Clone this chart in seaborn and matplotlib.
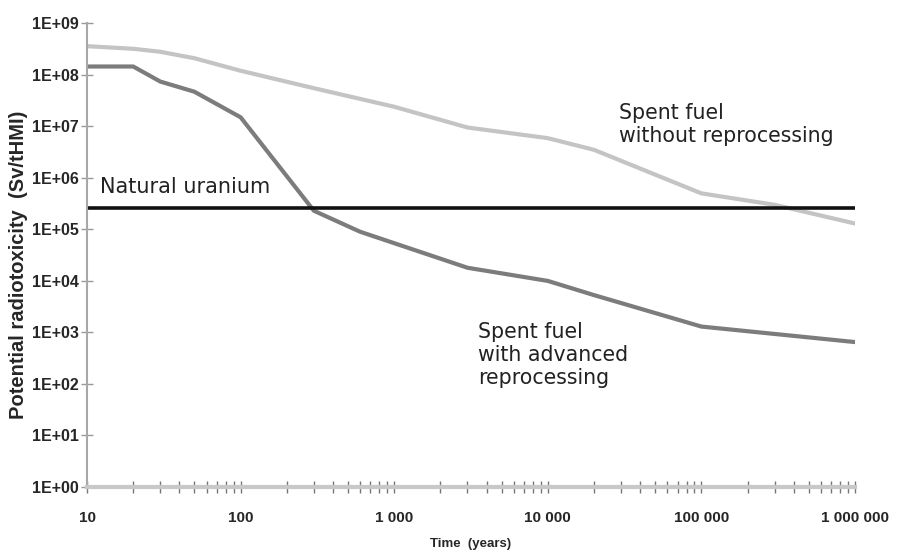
import matplotlib
matplotlib.use("Agg")
import matplotlib.pyplot as plt
import matplotlib.ticker as mticker
import seaborn as sns
import pandas as pd
import numpy as np

# ---- data ----
time_no_reproc = [10, 20, 30, 50, 100, 300, 1000, 3000, 10000, 20000, 100000, 300000, 1000000]
tox_no_reproc = [3.6e8, 3.2e8, 2.8e8, 2.1e8, 1.2e8, 5.5e7, 2.4e7, 9.5e6, 5.9e6, 3.5e6, 5.0e5, 3.0e5, 1.3e5]

time_adv = [10, 20, 30, 50, 100, 300, 600, 3000, 10000, 20000, 100000, 1000000]
tox_adv = [1.45e8, 1.45e8, 7.4e7, 4.7e7, 1.5e7, 2.3e5, 9.0e4, 1.8e4, 1.0e4, 5.3e3, 1.3e3, 6.5e2]

natural_uranium = 2.6e5

x_ticks = [10, 100, 1000, 10000, 100000, 1000000]
x_tick_labels = ["10", "100", "1 000", "10 000", "100 000", "1 000 000"]
y_ticks = [1e0, 1e1, 1e2, 1e3, 1e4, 1e5, 1e6, 1e7, 1e8, 1e9]
y_tick_labels = ["1E+00", "1E+01", "1E+02", "1E+03", "1E+04", "1E+05", "1E+06", "1E+07", "1E+08", "1E+09"]

sns.set_style("white")
plt.rcParams['font.family'] = ['DejaVu Sans']

fig = plt.figure(figsize=(8.99, 5.52), dpi=100)
ax = fig.add_axes([87/899, 1-487/552, (855-87)/899, (487-23.3)/552])

df_no = pd.DataFrame({"t": time_no_reproc, "v": tox_no_reproc})
df_adv = pd.DataFrame({"t": time_adv, "v": tox_adv})

sns.lineplot(data=df_no, x="t", y="v", ax=ax, color="#c4c4c4", linewidth=3, sort=False)
sns.lineplot(data=df_adv, x="t", y="v", ax=ax, color="#7c7c7c", linewidth=3, sort=False)
ax.axhline(natural_uranium, color="#111111", linewidth=2.6)

ax.set_xscale("log")
ax.set_yscale("log")
ax.set_xlim(10, 1e6)
ax.set_ylim(1, 1e9)

ax.set_xticks(x_ticks)
ax.set_xticklabels(x_tick_labels, fontfamily="Liberation Sans", fontweight="bold", fontsize=11)
ax.xaxis.set_minor_locator(mticker.LogLocator(base=10, subs=np.arange(2, 10)))
ax.xaxis.set_minor_formatter(mticker.NullFormatter())
ax.set_yticks(y_ticks)
ax.set_yticklabels(y_tick_labels, fontfamily="Liberation Sans", fontweight="bold", fontsize=11.5)
ax.yaxis.set_minor_locator(mticker.NullLocator())

ax.tick_params(axis="x", which="both", direction="inout", length=8, width=1, color="#777777", pad=13, bottom=True)
ax.tick_params(axis="y", which="major", direction="inout", length=8, width=1, color="#999999", pad=2, left=True)

for s in ["top", "right"]:
    ax.spines[s].set_visible(False)
ax.spines["left"].set_color("#a8a8a8")
ax.spines["left"].set_linewidth(1.5)
ax.spines["bottom"].set_color("#c8c8c8")
ax.spines["bottom"].set_linewidth(3)

ax.set_xlabel("Time  (years)", fontfamily="Liberation Sans", fontweight="bold", fontsize=9.5, labelpad=10)
ax.set_ylabel("Potential radiotoxicity  (Sv/tHMI)", fontfamily="Liberation Sans", fontweight="bold", fontsize=14.5)
ax.yaxis.set_label_coords(-0.077, 0.48)

ax.text(12.2, 6.6e5, "Natural uranium", fontsize=15, color="#222222", va="center", ha="left")
ax.text(2.9e4, 2.9e7, "Spent fuel\nwithout reprocessing", fontsize=14.8, color="#222222",
        va="top", ha="left", linespacing=1.2)
ax.text(3.5e3, 3.6e2, "Spent fuel\nwith advanced\nreprocessing", fontsize=14.8, color="#222222",
        va="center", ha="left", linespacing=1.2)

fig.savefig("out.png", dpi=100)
